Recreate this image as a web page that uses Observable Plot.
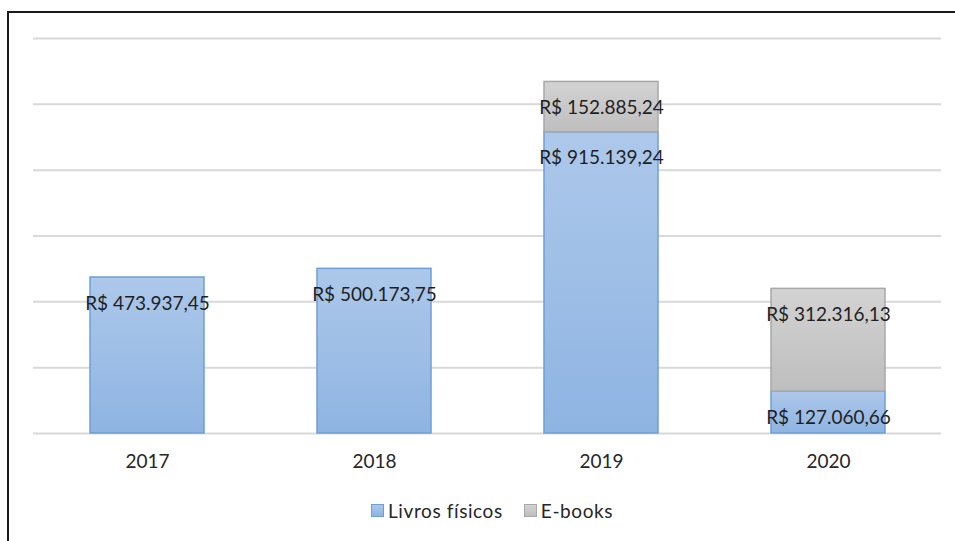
<!DOCTYPE html>
<html>
<head>
<meta charset="utf-8">
<script src="https://cdn.jsdelivr.net/npm/d3@7"></script>
<script src="https://cdn.jsdelivr.net/npm/@observablehq/plot@0.6"></script>
<style>
  body { margin: 0; background: #fff; width: 955px; height: 541px; overflow: hidden; position: relative; font-family: Lato, "Open Sans", sans-serif; }
  #frame { position: absolute; left: 7px; top: 11px; width: 1000px; height: 600px; border-left: 2px solid #1a1a1a; border-top: 2px solid #1a1a1a; }
  #chart { position: absolute; left: 0; top: 0; }
  #legend { position: absolute; top: 499px; left: 371px; display: flex; gap: 21px; font-size: 19px; letter-spacing: 0.6px; color: #262626; }
  .item { display: flex; align-items: center; gap: 4px; }
  .sw { width: 11px; height: 11px; border: 1px solid; }
</style>
</head>
<body>
<div id="frame"></div>
<div id="chart"></div>
<div id="legend"></div>
<script>
const years = ["2017", "2018", "2019", "2020"];
const series = ["Livros físicos", "E-books"];
const livros = [473937.45, 500173.75, 915139.24, 127060.66];
const ebooks = [null, null, 152885.24, 312316.13];
const gridTicks = [0, 200000, 400000, 600000, 800000, 1000000, 1200000];

const fills = {"Livros físicos": "url(#gBlue)", "E-books": "url(#gGrey)"};
const strokes = {"Livros físicos": "#6d9fd6", "E-books": "#a8a8a8"};

const data = [];
years.forEach((yr, i) => {
  if (livros[i] != null) data.push({year: yr, series: series[0], value: livros[i]});
});
years.forEach((yr, i) => {
  if (ebooks[i] != null) data.push({year: yr, series: series[1], value: ebooks[i]});
});

function brl(v) {
  const [int, dec] = v.toFixed(2).split(".");
  return "R$ " + int.replace(/\B(?=(\d{3})+(?!\d))/g, ".") + "," + dec;
}

const plot = Plot.plot({
  width: 955,
  height: 480,
  marginTop: 38,
  marginBottom: 47,
  marginLeft: 33,
  marginRight: 14,
  style: {fontFamily: "Lato, 'Open Sans', sans-serif", background: "transparent"},
  x: {domain: years, paddingInner: 0.5, paddingOuter: 0.25, label: null, tickSize: 0, tickPadding: 21},
  y: {domain: [0, 1200000], axis: null},
  marks: [
    Plot.ruleY(gridTicks, {stroke: "#d9d9d9", strokeWidth: 2}),
    Plot.barY(data, {
      x: "year", y: "value", z: "series", order: series,
      fill: d => fills[d.series],
      stroke: d => strokes[d.series],
      strokeWidth: 1.5
    }),
    Plot.text(data, Plot.stackY2({
      x: "year", y: "value", z: "series", order: series,
      text: d => brl(d.value),
      dy: 26, fontSize: 19, fill: "#1f1f1f"
    }))
  ]
});

// gradients
const svgNS = "http://www.w3.org/2000/svg";
const defs = document.createElementNS(svgNS, "defs");
function grad(id, top, bottom) {
  const g = document.createElementNS(svgNS, "linearGradient");
  g.setAttribute("id", id);
  g.setAttribute("x1", "0"); g.setAttribute("y1", "0");
  g.setAttribute("x2", "0"); g.setAttribute("y2", "1");
  [[0, top], [1, bottom]].forEach(([o, c]) => {
    const s = document.createElementNS(svgNS, "stop");
    s.setAttribute("offset", o);
    s.setAttribute("stop-color", c);
    g.appendChild(s);
  });
  defs.appendChild(g);
}
grad("gBlue", "#adc8ea", "#8eb4e2");
grad("gGrey", "#d3d3d3", "#bebebe");
plot.insertBefore(defs, plot.firstChild);

// axis label styling
plot.querySelectorAll("g[aria-label='x-axis tick label']").forEach(el => {
  el.setAttribute("font-size", "19");
  el.setAttribute("fill", "#262626");
});

document.getElementById("chart").appendChild(plot);

const legend = document.getElementById("legend");
const swFill = {"Livros físicos": "linear-gradient(#adc8ea, #8eb4e2)", "E-books": "linear-gradient(#d3d3d3, #bebebe)"};
series.forEach(s => {
  const item = document.createElement("div");
  item.className = "item";
  const sw = document.createElement("span");
  sw.className = "sw";
  sw.style.background = swFill[s];
  sw.style.borderColor = strokes[s];
  const t = document.createElement("span");
  t.textContent = s;
  item.appendChild(sw);
  item.appendChild(t);
  legend.appendChild(item);
});
</script>
</body>
</html>
